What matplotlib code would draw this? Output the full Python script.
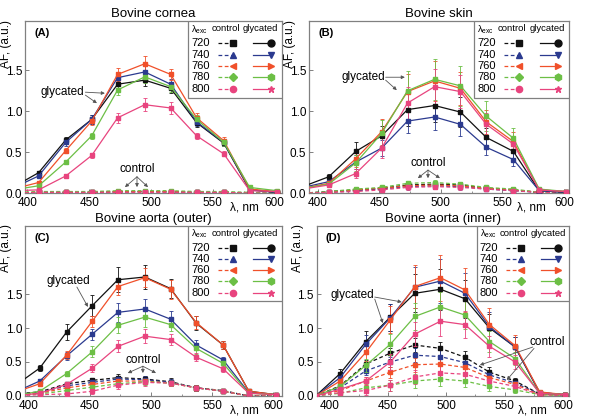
import matplotlib
matplotlib.use("Agg")
import matplotlib.pyplot as plt
from matplotlib.lines import Line2D
from matplotlib.patches import Rectangle

plt.rcParams["font.family"] = ["Liberation Sans", "DejaVu Sans"]
plt.rcParams["mathtext.fontset"] = "custom"
plt.rcParams["mathtext.rm"] = "Liberation Sans"

# emission wavelengths, nm
wl = [388, 409, 431, 452, 473, 495, 516, 537, 559, 580, 602]
exc = ["720", "740", "760", "780", "800"]

# (A) bovine cornea
a_gly = [[0.07, 0.25, 0.65, 0.90, 1.33, 1.38, 1.28, 0.86, 0.61, 0.04, 0.01],
         [0.06, 0.21, 0.62, 0.90, 1.41, 1.48, 1.33, 0.87, 0.62, 0.04, 0.01],
         [0.05, 0.13, 0.52, 0.88, 1.45, 1.58, 1.45, 0.92, 0.64, 0.05, 0.02],
         [0.04, 0.09, 0.38, 0.70, 1.26, 1.42, 1.30, 0.90, 0.62, 0.07, 0.03],
         [0.03, 0.04, 0.21, 0.46, 0.92, 1.08, 1.04, 0.70, 0.48, 0.03, 0.02]]
a_gly_err = [[0, 0.02, 0.04, 0.05, 0.07, 0.07, 0.06, 0.05, 0.04, 0.01, 0.01],
             [0, 0.02, 0.04, 0.05, 0.07, 0.07, 0.06, 0.05, 0.04, 0.01, 0.01],
             [0, 0.02, 0.03, 0.05, 0.08, 0.09, 0.07, 0.06, 0.04, 0.01, 0.01],
             [0, 0.01, 0.02, 0.04, 0.06, 0.07, 0.06, 0.05, 0.04, 0.01, 0.01],
             [0, 0.01, 0.02, 0.03, 0.06, 0.08, 0.07, 0.04, 0.03, 0.01, 0.01]]
a_ctl = [[0.00, 0.01, 0.01, 0.01, 0.02, 0.02, 0.02, 0.01, 0.01, 0.00, 0.00],
         [0.00, 0.01, 0.01, 0.01, 0.01, 0.02, 0.01, 0.01, 0.01, 0.00, 0.00],
         [0.00, 0.01, 0.01, 0.01, 0.02, 0.02, 0.02, 0.01, 0.01, 0.00, 0.00],
         [0.01, 0.02, 0.02, 0.02, 0.03, 0.03, 0.03, 0.02, 0.02, 0.01, 0.00],
         [0.00, 0.01, 0.01, 0.01, 0.01, 0.01, 0.01, 0.01, 0.01, 0.00, 0.00]]
a_ctl_err = [0, 0.005, 0.005, 0.01, 0.01, 0.01, 0.01, 0.01, 0.005, 0.005, 0.005]

# (B) bovine skin
b_gly = [[0.08, 0.20, 0.51, 0.70, 1.02, 1.07, 0.99, 0.68, 0.51, 0.03, 0.01],
         [0.07, 0.14, 0.38, 0.55, 0.88, 0.93, 0.84, 0.56, 0.41, 0.03, 0.01],
         [0.06, 0.12, 0.42, 0.75, 1.24, 1.37, 1.28, 0.87, 0.63, 0.04, 0.02],
         [0.06, 0.11, 0.37, 0.73, 1.25, 1.39, 1.31, 0.94, 0.67, 0.05, 0.02],
         [0.05, 0.10, 0.24, 0.55, 1.10, 1.30, 1.24, 0.84, 0.60, 0.04, 0.02]]
b_gly_err = [[0, 0.04, 0.12, 0.12, 0.20, 0.20, 0.18, 0.12, 0.10, 0.01, 0.01],
             [0, 0.03, 0.08, 0.10, 0.15, 0.16, 0.14, 0.10, 0.08, 0.01, 0.01],
             [0, 0.03, 0.10, 0.16, 0.22, 0.24, 0.20, 0.15, 0.12, 0.01, 0.01],
             [0, 0.03, 0.10, 0.16, 0.24, 0.25, 0.24, 0.18, 0.13, 0.01, 0.01],
             [0, 0.03, 0.06, 0.12, 0.20, 0.22, 0.20, 0.14, 0.10, 0.01, 0.01]]
b_ctl = [[0.00, 0.02, 0.04, 0.06, 0.10, 0.11, 0.10, 0.06, 0.04, 0.01, 0.00],
         [0.00, 0.01, 0.03, 0.05, 0.08, 0.09, 0.08, 0.05, 0.03, 0.01, 0.00],
         [0.00, 0.01, 0.04, 0.06, 0.09, 0.10, 0.09, 0.06, 0.04, 0.01, 0.00],
         [0.00, 0.02, 0.05, 0.07, 0.12, 0.13, 0.11, 0.07, 0.05, 0.01, 0.00],
         [0.00, 0.01, 0.02, 0.04, 0.07, 0.08, 0.07, 0.05, 0.03, 0.01, 0.00]]
b_ctl_err = [0, 0.01, 0.02, 0.02, 0.03, 0.03, 0.03, 0.02, 0.02, 0.01, 0.005]

# (C) bovine aorta, outer
c_gly = [[0.14, 0.41, 0.94, 1.33, 1.71, 1.75, 1.58, 1.07, 0.75, 0.07, 0.02],
         [0.05, 0.22, 0.59, 0.91, 1.23, 1.28, 1.13, 0.75, 0.53, 0.05, 0.02],
         [0.05, 0.18, 0.60, 1.10, 1.61, 1.74, 1.57, 1.08, 0.75, 0.07, 0.02],
         [0.00, 0.07, 0.33, 0.65, 1.04, 1.16, 1.05, 0.70, 0.48, 0.04, 0.02],
         [0.00, 0.04, 0.17, 0.41, 0.73, 0.88, 0.83, 0.57, 0.40, 0.04, 0.02]]
c_gly_err = [[0, 0.04, 0.12, 0.15, 0.18, 0.18, 0.14, 0.10, 0.06, 0.01, 0.01],
             [0, 0.03, 0.06, 0.08, 0.14, 0.14, 0.12, 0.08, 0.05, 0.01, 0.01],
             [0, 0.03, 0.06, 0.08, 0.12, 0.14, 0.14, 0.10, 0.06, 0.01, 0.01],
             [0, 0.02, 0.04, 0.08, 0.12, 0.14, 0.10, 0.08, 0.05, 0.01, 0.01],
             [0, 0.02, 0.04, 0.06, 0.09, 0.10, 0.08, 0.06, 0.04, 0.01, 0.01]]
c_ctl = [[0.03, 0.06, 0.18, 0.23, 0.27, 0.25, 0.21, 0.12, 0.08, 0.00, 0.00],
         [0.02, 0.05, 0.15, 0.20, 0.25, 0.24, 0.20, 0.12, 0.07, 0.00, 0.00],
         [0.02, 0.04, 0.12, 0.17, 0.22, 0.22, 0.19, 0.12, 0.07, 0.00, 0.00],
         [0.01, 0.03, 0.08, 0.13, 0.18, 0.21, 0.19, 0.12, 0.07, 0.00, 0.00],
         [0.00, 0.02, 0.03, 0.07, 0.16, 0.20, 0.19, 0.12, 0.07, 0.00, 0.00]]
c_ctl_err = [0, 0.02, 0.03, 0.04, 0.05, 0.05, 0.05, 0.04, 0.03, 0.01, 0.01]

# (D) bovine aorta, inner
d_gly = [[0.00, 0.33, 0.80, 1.16, 1.51, 1.57, 1.43, 1.00, 0.72, 0.05, 0.02],
         [0.00, 0.27, 0.76, 1.15, 1.60, 1.69, 1.51, 1.02, 0.72, 0.05, 0.02],
         [0.00, 0.22, 0.64, 1.12, 1.61, 1.74, 1.56, 1.05, 0.74, 0.06, 0.02],
         [0.00, 0.14, 0.45, 0.76, 1.17, 1.31, 1.19, 0.80, 0.55, 0.04, 0.02],
         [0.00, 0.10, 0.22, 0.50, 0.91, 1.10, 1.05, 0.73, 0.50, 0.04, 0.02]]
d_gly_err = [[0.01, 0.06, 0.15, 0.20, 0.28, 0.30, 0.28, 0.20, 0.15, 0.02, 0.01],
             [0.01, 0.05, 0.14, 0.20, 0.30, 0.32, 0.30, 0.22, 0.15, 0.02, 0.01],
             [0.01, 0.05, 0.12, 0.20, 0.32, 0.34, 0.32, 0.24, 0.16, 0.02, 0.01],
             [0.01, 0.04, 0.10, 0.15, 0.20, 0.22, 0.20, 0.15, 0.10, 0.02, 0.01],
             [0.01, 0.03, 0.06, 0.12, 0.18, 0.22, 0.20, 0.15, 0.10, 0.02, 0.01]]
d_ctl = [[0.00, 0.15, 0.47, 0.63, 0.75, 0.70, 0.57, 0.35, 0.22, 0.03, 0.01],
         [0.00, 0.12, 0.37, 0.50, 0.60, 0.58, 0.49, 0.31, 0.19, 0.03, 0.01],
         [0.00, 0.08, 0.22, 0.35, 0.46, 0.47, 0.42, 0.27, 0.17, 0.02, 0.01],
         [0.00, 0.04, 0.12, 0.16, 0.22, 0.25, 0.22, 0.14, 0.09, 0.02, 0.01],
         [0.00, 0.05, 0.08, 0.16, 0.28, 0.34, 0.32, 0.22, 0.14, 0.02, 0.01]]
d_ctl_err = [0, 0.03, 0.06, 0.08, 0.10, 0.10, 0.09, 0.07, 0.05, 0.01, 0.01]

colors = ["#111111", "#2b3a8f", "#f0502a", "#6cbf45", "#e8447e"]
ctl_markers = ["s", "^", "<", "D", "o"]
gly_markers = ["o", "v", ">", "h", "*"]
GRAY = "#808080"


def draw_legend(ax):
    ax.add_patch(Rectangle((0.634, 0.556), 0.366, 0.444, transform=ax.transAxes,
                           facecolor="white", edgecolor=GRAY, lw=0.9, zorder=20))
    kw = dict(transform=ax.transAxes, fontsize=6.8, va="center", zorder=21)
    ax.text(0.648, 0.952, r"λ$_{\rm exc}$", ha="left", **kw)
    ax.text(0.782, 0.958, "control", ha="center", **kw)
    ax.text(0.918, 0.958, "glycated", ha="center", **kw)
    for i, lab in enumerate(exc):
        y = 0.872 - i * 0.066
        ax.text(0.683, y, lab, ha="center", fontsize=8, transform=ax.transAxes,
                va="center", zorder=21)
        ax.add_line(Line2D([0.75, 0.81], [y, y], transform=ax.transAxes, color=colors[i],
                           ls=(0, (3, 2)), lw=0.9, marker=ctl_markers[i], markevery=[1],
                           ms=4.5, zorder=21))
        ax.add_line(Line2D([0.888, 0.958], [y, y], transform=ax.transAxes, color=colors[i],
                           lw=0.9, marker=gly_markers[i], markevery=[1], ms=5, zorder=21))


def draw_panel(ax, gly, gly_err, ctl, ctl_err, title, tag, xlim, ymax):
    for i in range(5):
        ax.errorbar(wl, ctl[i], yerr=ctl_err, color=colors[i], ls=(0, (3, 2)), lw=0.9,
                    marker="s", ms=3, elinewidth=0.6, capsize=1.5, capthick=0.6, zorder=3)
    for i in range(5):
        ax.errorbar(wl, gly[i], yerr=gly_err[i], color=colors[i], lw=0.9,
                    marker="s", ms=3, elinewidth=0.6, capsize=1.5, capthick=0.6, zorder=4)
    ax.set_xlim(*xlim)
    ax.set_ylim(0, ymax)
    ax.set_xticks([400, 450, 500, 550, 600])
    ax.set_xticks([425, 475, 525, 575], minor=True)
    ax.set_yticks([0, 0.5, 1.0, 1.5])
    ax.set_yticklabels(["0.0", "0.5", "1.0", "1.5"])
    ax.tick_params(direction="in", labelsize=8.5, length=3, width=0.7, color=GRAY, pad=2)
    ax.tick_params(axis="x", pad=3)
    ax.tick_params(which="minor", direction="in", length=1.5, width=0.6, color=GRAY)
    for s in ax.spines.values():
        s.set_color(GRAY)
        s.set_linewidth(0.9)
    ax.set_title(title, fontsize=9.5, pad=3)
    ax.text(0.035, 0.93, tag, transform=ax.transAxes, fontsize=8, fontweight="bold",
            va="center")
    ax.set_ylabel("AF, (a.u.)", fontsize=8.5)
    ax.yaxis.set_label_coords(-0.05, 0.87)
    ax.text(0.855, -0.085, "λ, nm", transform=ax.transAxes, fontsize=8.5,
            ha="center", va="center")
    draw_legend(ax)


def arrow(ax, tail, head):
    ax.annotate("", xy=head, xytext=tail, xycoords="axes fraction",
                textcoords="axes fraction",
                arrowprops=dict(arrowstyle="-|>", color="#555555", lw=0.6,
                                mutation_scale=5, shrinkA=0, shrinkB=0), zorder=10)


fig = plt.figure(figsize=(6, 4.19), dpi=100)
axA = fig.add_axes([0.0417, 0.539, 0.428, 0.4105])
axB = fig.add_axes([0.515, 0.539, 0.433, 0.4105])
axC = fig.add_axes([0.0417, 0.0549, 0.428, 0.4057])
axD = fig.add_axes([0.528, 0.0549, 0.42, 0.4057])

draw_panel(axA, a_gly, a_gly_err, a_ctl, a_ctl_err, "Bovine cornea", "(A)", (398, 606), 2.1)
draw_panel(axB, b_gly, b_gly_err, b_ctl, b_ctl_err, "Bovine skin", "(B)", (393, 604), 2.1)
draw_panel(axC, c_gly, c_gly_err, c_ctl, c_ctl_err, "Bovine aorta (outer)", "(C)", (397, 607), 2.5)
draw_panel(axD, d_gly, d_gly_err, d_ctl, d_ctl_err, "Bovine aorta (inner)", "(D)", (389, 605), 2.5)

# annotations
tkw = dict(fontsize=8.5, ha="center", va="center")
axA.text(0.144, 0.587, "glycated", transform=axA.transAxes, **tkw)
arrow(axA, (0.235, 0.587), (0.311, 0.581))
arrow(axA, (0.235, 0.570), (0.280, 0.523))
axA.text(0.436, 0.140, "control", transform=axA.transAxes, **tkw)
for hx in (0.389, 0.436, 0.479):
    arrow(axA, (0.436, 0.095), (hx, 0.035))

axB.text(0.208, 0.674, "glycated", transform=axB.transAxes, **tkw)
arrow(axB, (0.295, 0.674), (0.369, 0.674))
arrow(axB, (0.295, 0.657), (0.338, 0.599))
axB.text(0.458, 0.174, "control", transform=axB.transAxes, **tkw)
for hx in (0.419, 0.458, 0.504):
    arrow(axB, (0.458, 0.134), (hx, 0.087))

axC.text(0.167, 0.676, "glycated", transform=axC.transAxes, **tkw)
arrow(axC, (0.202, 0.641), (0.245, 0.524))
axC.text(0.459, 0.212, "control", transform=axC.transAxes, **tkw)
for hx in (0.40, 0.459, 0.51):
    arrow(axC, (0.459, 0.175), (hx, 0.135))

axD.text(0.139, 0.594, "glycated", transform=axD.transAxes, **tkw)
arrow(axD, (0.230, 0.582), (0.337, 0.553))
arrow(axD, (0.230, 0.570), (0.262, 0.429))
axD.text(0.913, 0.318, "control", transform=axD.transAxes, **tkw)
arrow(axD, (0.857, 0.288), (0.647, 0.182))
arrow(axD, (0.862, 0.280), (0.754, 0.094))

fig.savefig("out.png", dpi=100)
